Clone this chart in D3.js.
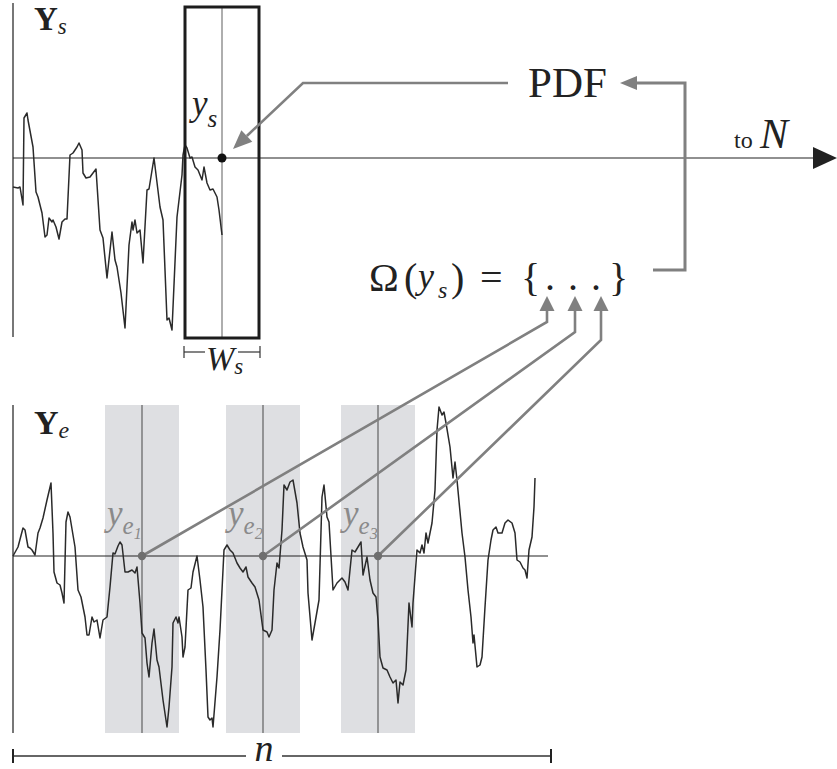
<!DOCTYPE html>
<html>
<head>
<meta charset="utf-8">
<script src="https://cdn.jsdelivr.net/npm/d3@7"></script>
<style>
  html, body { margin: 0; padding: 0; background: #fff; }
  svg { display: block; }
</style>
</head>
<body>
<svg id="fig" width="837" height="769"></svg>
<script>
// Simulated series Y_s, up to the current time step: [sample index, anomaly]
const seriesS = [
  [0,-0.29],[5,-0.30],[7,-0.29],[10,-0.47],[11,0.40],[14,0.45],[15,0.38],[20,0.11],
  [23,-0.34],[25,-0.39],[29,-0.55],[32,-0.79],[34,-0.77],[36,-0.60],[39,-0.64],[40,-0.62],
  [43,-0.69],[46,-0.81],[49,-0.64],[52,-0.61],[54,-0.61],[57,0.03],[60,0.05],[64,0.11],
  [66,0.15],[69,0.08],[70,-0.15],[73,-0.20],[77,-0.19],[80,-0.15],[83,-0.11],[87,-0.72],
  [90,-0.80],[94,-1.20],[99,-0.74],[102,-1.02],[104,-1.09],[108,-1.35],[112,-1.70],[116,-0.87],
  [119,-0.64],[120,-0.72],[122,-0.62],[124,-0.75],[127,-0.72],[130,-1.05],[134,-0.32],[136,-0.31],
  [141,0.00],[147,-0.49],[150,-0.62],[154,-1.62],[156,-1.60],[159,-1.72],[164,-0.59],[169,-0.17],
  [170,0.03],[172,0.13],[174,0.10],[177,0.00],[179,0.01],[182,-0.09],[185,-0.12],[189,-0.22],
  [191,-0.09],[194,-0.25],[197,-0.32],[200,-0.31],[204,-0.39],[206,-0.52],[209,-0.77]
];

// Observed series Y_e over the full record of n samples: [sample index, anomaly]
const seriesE = [
  [0,0.00],[5,0.09],[10,0.28],[12,0.26],[15,0.09],[17,0.08],[19,0.06],[22,0.01],
  [25,0.23],[27,0.28],[30,0.38],[34,0.56],[38,0.73],[40,0.23],[41,-0.16],[44,-0.27],
  [47,-0.29],[49,-0.37],[51,-0.47],[53,0.34],[55,0.44],[57,0.39],[62,0.09],[65,-0.34],
  [68,-0.41],[72,-0.61],[74,-0.79],[76,-0.79],[79,-0.61],[81,-0.66],[84,-0.64],[87,-0.82],
  [90,-0.64],[94,-0.61],[97,-0.31],[100,0.03],[102,0.02],[105,0.10],[107,0.14],[109,0.11],
  [112,-0.16],[115,-0.16],[119,-0.14],[122,-0.17],[124,-0.11],[127,-0.47],[129,-0.77],[132,-0.82],
  [134,-1.07],[136,-1.21],[139,-0.87],[141,-0.73],[144,-1.04],[146,-1.11],[150,-1.44],[154,-1.71],
  [156,-1.51],[159,-1.11],[160,-0.67],[163,-0.61],[165,-0.67],[166,-0.61],[169,-0.81],[170,-1.01],
  [172,-0.91],[175,-0.34],[178,-0.32],[180,-0.16],[184,0.00],[187,-0.24],[190,-0.51],[193,-1.14],
  [195,-1.61],[197,-1.64],[199,-1.62],[200,-1.71],[204,-1.21],[207,-0.74],[211,0.06],[214,0.11],
  [217,0.06],[220,0.03],[224,-0.07],[227,-0.12],[230,-0.16],[233,-0.11],[235,-0.21],[239,-0.27],
  [242,-0.31],[246,-0.44],[250,-0.74],[254,-0.76],[256,-0.81],[259,-0.74],[261,-0.34],[264,-0.07],
  [266,-0.12],[269,0.26],[271,0.71],[274,0.66],[277,0.74],[280,0.76],[284,0.53],[287,0.23],
  [290,0.09],[294,-0.04],[295,-0.37],[299,-0.84],[302,-0.67],[306,-0.44],[309,0.59],[311,0.71],
  [314,0.39],[316,0.34],[320,-0.34],[324,-0.27],[329,-0.22],[332,-0.26],[335,-0.34],[339,0.06],
  [342,0.04],[345,0.09],[348,0.14],[350,-0.19],[354,-0.01],[357,-0.24],[360,-0.37],[363,-0.41],
  [365,-0.64],[367,-1.01],[370,-1.12],[374,-1.14],[377,-1.21],[380,-1.27],[383,-1.24],[385,-1.47],
  [387,-1.26],[390,-1.29],[393,-1.14],[396,-0.47],[399,-0.71],[400,-0.47],[404,0.06],[407,0.03],
  [409,0.11],[411,0.03],[413,0.23],[415,0.13],[419,0.33],[422,0.66],[424,1.26],[426,1.49],
  [429,1.41],[431,1.44],[433,1.33],[437,1.09],[440,0.78],[442,0.94],[444,0.76],[449,0.23],
  [452,-0.01],[455,-0.34],[458,-0.61],[460,-0.87],[461,-0.79],[464,-1.11],[467,-1.09],[469,-1.01],
  [472,-0.51],[475,-0.04],[478,0.16],[480,0.26],[483,0.29],[485,0.23],[489,0.23],[492,0.33],
  [495,0.36],[499,0.33],[502,0.23],[504,-0.04],[507,-0.06],[510,-0.12],[512,-0.14],[514,-0.22],
  [516,0.06],[519,0.19],[521,0.49],[522,0.78]
];

const nSamples = 538;                 // length of the observed record
const ysIndex = 209;                  // current simulated time step
const windowWidth = 74;               // search window W_s, in samples
const analogIndex = [129, 250, 365];  // analog states y_e1, y_e2, y_e3
const analogLabels = ["1", "2", "3"];

const svg = d3.select("#fig");
const gray = "#808080";
const ink = "#2a2a2a";
const serif = "Liberation Serif";

const x = d3.scaleLinear().domain([0, nSamples]).range([13, 551]);
const yS = d3.scaleLinear().domain([-1.79, 1.55]).range([337, 3]);
const yE = d3.scaleLinear().domain([-1.77, 1.51]).range([733, 405]);

function label(px, py) {
  return svg.append("text").attr("x", px).attr("y", py)
    .attr("font-family", serif).attr("fill", "#222");
}
function head(tip, from, len, hw) {
  const dx = tip[0] - from[0], dy = tip[1] - from[1];
  const L = Math.hypot(dx, dy), ux = dx / L, uy = dy / L;
  const bx = tip[0] - ux * len, by = tip[1] - uy * len;
  return { base: [bx, by], pts: [[tip[0], tip[1]], [bx - uy * hw, by + ux * hw], [bx + uy * hw, by - ux * hw]] };
}
function arrow(pts, color, width, len, hw) {
  const tip = pts[pts.length - 1], prev = pts[pts.length - 2];
  const h = head(tip, prev, len, hw);
  const linePts = pts.slice(0, -1).concat([h.base]);
  svg.append("path").attr("d", d3.line()(linePts))
    .attr("fill", "none").attr("stroke", color).attr("stroke-width", width)
    .attr("stroke-linejoin", "miter");
  svg.append("polygon").attr("points", h.pts.map(p => p.join(",")).join(" "))
    .attr("fill", color);
}

// ---------- Top panel: simulated series Y_s ----------
svg.append("line").attr("x1", x(0)).attr("x2", x(0))
  .attr("y1", yS.range()[1]).attr("y2", yS.range()[0])
  .attr("stroke", "#777").attr("stroke-width", 2);

// search window around y_s
const rx0 = x(ysIndex - windowWidth / 2), rx1 = x(ysIndex + windowWidth / 2);
svg.append("line").attr("x1", x(ysIndex)).attr("x2", x(ysIndex))
  .attr("y1", yS(1.51)).attr("y2", yS(-1.80))
  .attr("stroke", "#9a9a9a").attr("stroke-width", 1.6);

// baseline extending to N
svg.append("line").attr("x1", x(0)).attr("x2", 815)
  .attr("y1", yS(0)).attr("y2", yS(0))
  .attr("stroke", "#222").attr("stroke-width", 1.2);
svg.append("polygon")
  .attr("points", `837,${yS(0)} 813,${yS(0) - 11} 813,${yS(0) + 11}`)
  .attr("fill", "#222");

svg.append("path").datum(seriesS)
  .attr("d", d3.line().x(d => x(d[0])).y(d => yS(d[1])))
  .attr("fill", "none").attr("stroke", ink).attr("stroke-width", 1.5)
  .attr("stroke-linejoin", "round");

svg.append("rect").attr("x", rx0).attr("y", yS(1.51))
  .attr("width", rx1 - rx0).attr("height", yS(-1.80) - yS(1.51))
  .attr("fill", "none").attr("stroke", "#1c1c1c").attr("stroke-width", 3);

svg.append("circle").attr("cx", x(ysIndex)).attr("cy", yS(0)).attr("r", 4.5).attr("fill", "#111");

// W_s dimension
const wy = 352;
svg.append("line").attr("x1", rx0 - 1).attr("x2", rx0 + 20).attr("y1", wy).attr("y2", wy).attr("stroke", "#333").attr("stroke-width", 1.2);
svg.append("line").attr("x1", rx1 - 21).attr("x2", rx1 + 1).attr("y1", wy).attr("y2", wy).attr("stroke", "#333").attr("stroke-width", 1.2);
svg.append("line").attr("x1", rx0 - 1).attr("x2", rx0 - 1).attr("y1", wy - 6).attr("y2", wy + 6).attr("stroke", "#333").attr("stroke-width", 1.2);
svg.append("line").attr("x1", rx1 + 1).attr("x2", rx1 + 1).attr("y1", wy - 6).attr("y2", wy + 6).attr("stroke", "#333").attr("stroke-width", 1.2);
const wt = label(206, 370);
wt.append("tspan").attr("font-style", "italic").attr("font-size", 34).text("W");
wt.append("tspan").attr("font-style", "italic").attr("font-size", 23).attr("dy", 4).text("s");

// Y_s label
const tS = label(34, 30);
tS.append("tspan").attr("font-weight", "bold").attr("font-size", 33).text("Y");
tS.append("tspan").attr("font-style", "italic").attr("font-size", 23).attr("dy", 4).text("s");

// y_s label
const tys = label(192, 115);
tys.append("tspan").attr("font-style", "italic").attr("font-size", 35).text("y");
tys.append("tspan").attr("font-style", "italic").attr("font-size", 25).attr("dy", 12).text("s");

// ---------- Bottom panel: observed series Y_e ----------
const bTop = yE(1.51), bBot = yE(-1.77);
analogIndex.forEach(c => {
  svg.append("rect").attr("x", x(c - windowWidth / 2)).attr("y", bTop)
    .attr("width", x(c + windowWidth / 2) - x(c - windowWidth / 2)).attr("height", bBot - bTop)
    .attr("fill", "#dedfe2");
});
analogIndex.forEach(c => {
  svg.append("line").attr("x1", x(c)).attr("x2", x(c)).attr("y1", bTop).attr("y2", bBot)
    .attr("stroke", "#555").attr("stroke-width", 1.1);
});
svg.append("line").attr("x1", x(0)).attr("x2", x(0)).attr("y1", bTop).attr("y2", bBot)
  .attr("stroke", "#777").attr("stroke-width", 2);
svg.append("line").attr("x1", x(0)).attr("x2", x(nSamples) - 3)
  .attr("y1", yE(0)).attr("y2", yE(0))
  .attr("stroke", "#222").attr("stroke-width", 1.2);

svg.append("path").datum(seriesE)
  .attr("d", d3.line().x(d => x(d[0])).y(d => yE(d[1])))
  .attr("fill", "none").attr("stroke", ink).attr("stroke-width", 1.5)
  .attr("stroke-linejoin", "round");

const tE = label(34, 434);
tE.append("tspan").attr("font-weight", "bold").attr("font-size", 34).text("Y");
tE.append("tspan").attr("font-style", "italic").attr("font-size", 24).attr("dy", 4).text("e");

analogIndex.forEach((c, i) => {
  const t = label(x(c - windowWidth / 2) + 2, 525).attr("fill", "#8a8a8a");
  t.append("tspan").attr("font-style", "italic").attr("font-size", 35).text("y");
  t.append("tspan").attr("font-style", "italic").attr("font-size", 25).attr("dy", 9).text("e");
  t.append("tspan").attr("font-style", "italic").attr("font-size", 16).attr("dy", 5).text(analogLabels[i]);
});

// n dimension
const ny = 756;
svg.append("line").attr("x1", x(0)).attr("x2", 246).attr("y1", ny).attr("y2", ny).attr("stroke", "#333").attr("stroke-width", 1.3);
svg.append("line").attr("x1", 282).attr("x2", x(nSamples)).attr("y1", ny).attr("y2", ny).attr("stroke", "#333").attr("stroke-width", 1.3);
[x(0), x(nSamples)].forEach(px => {
  svg.append("line").attr("x1", px).attr("x2", px).attr("y1", ny - 7).attr("y2", ny + 7).attr("stroke", "#222").attr("stroke-width", 2);
});
label(264, 761).attr("text-anchor", "middle")
  .attr("font-style", "italic").attr("font-size", 38).text("n");

// ---------- Analog set and PDF ----------
const dotX = [550, 573, 596];
const arrowX = [547, 575, 601];
const elbowY = [322, 332, 340];
analogIndex.forEach((c, i) => {
  arrow([[x(c), yE(0)], [arrowX[i], elbowY[i]], [arrowX[i], 296]], gray, 2.6, 15, 7.5);
});
analogIndex.forEach(c => {
  svg.append("circle").attr("cx", x(c)).attr("cy", yE(0)).attr("r", 4.2).attr("fill", "#6e6e6e");
});

const fs = 40;
label(369, 291).attr("font-size", fs).text("Ω");
label(404, 291).attr("font-size", fs).text("(");
label(418, 288).attr("font-size", 36).attr("font-style", "italic").text("y");
label(438, 298).attr("font-size", 24).attr("font-style", "italic").text("s");
label(451, 291).attr("font-size", fs).text(")");
label(480, 291).attr("font-size", fs).text("=");
label(521, 291).attr("font-size", fs).text("{");
dotX.forEach(px => {
  label(px, 290).attr("text-anchor", "middle").attr("font-size", fs).text(".");
});
label(609, 291).attr("font-size", fs).text("}");

// feedback from the analog set to the PDF
arrow([[653, 270], [685, 270], [685, 83], [620, 83]], gray, 3, 17, 7);

label(528, 97).attr("font-size", 43).text("PDF");

// PDF sampled into y_s
arrow([[508, 83], [303, 83], [233, 149]], gray, 2.6, 19, 8);

// to N label
label(734, 148).attr("font-size", 24).text("to");
label(760, 148).attr("font-size", 42).attr("font-style", "italic").text("N");
</script>
</body>
</html>
